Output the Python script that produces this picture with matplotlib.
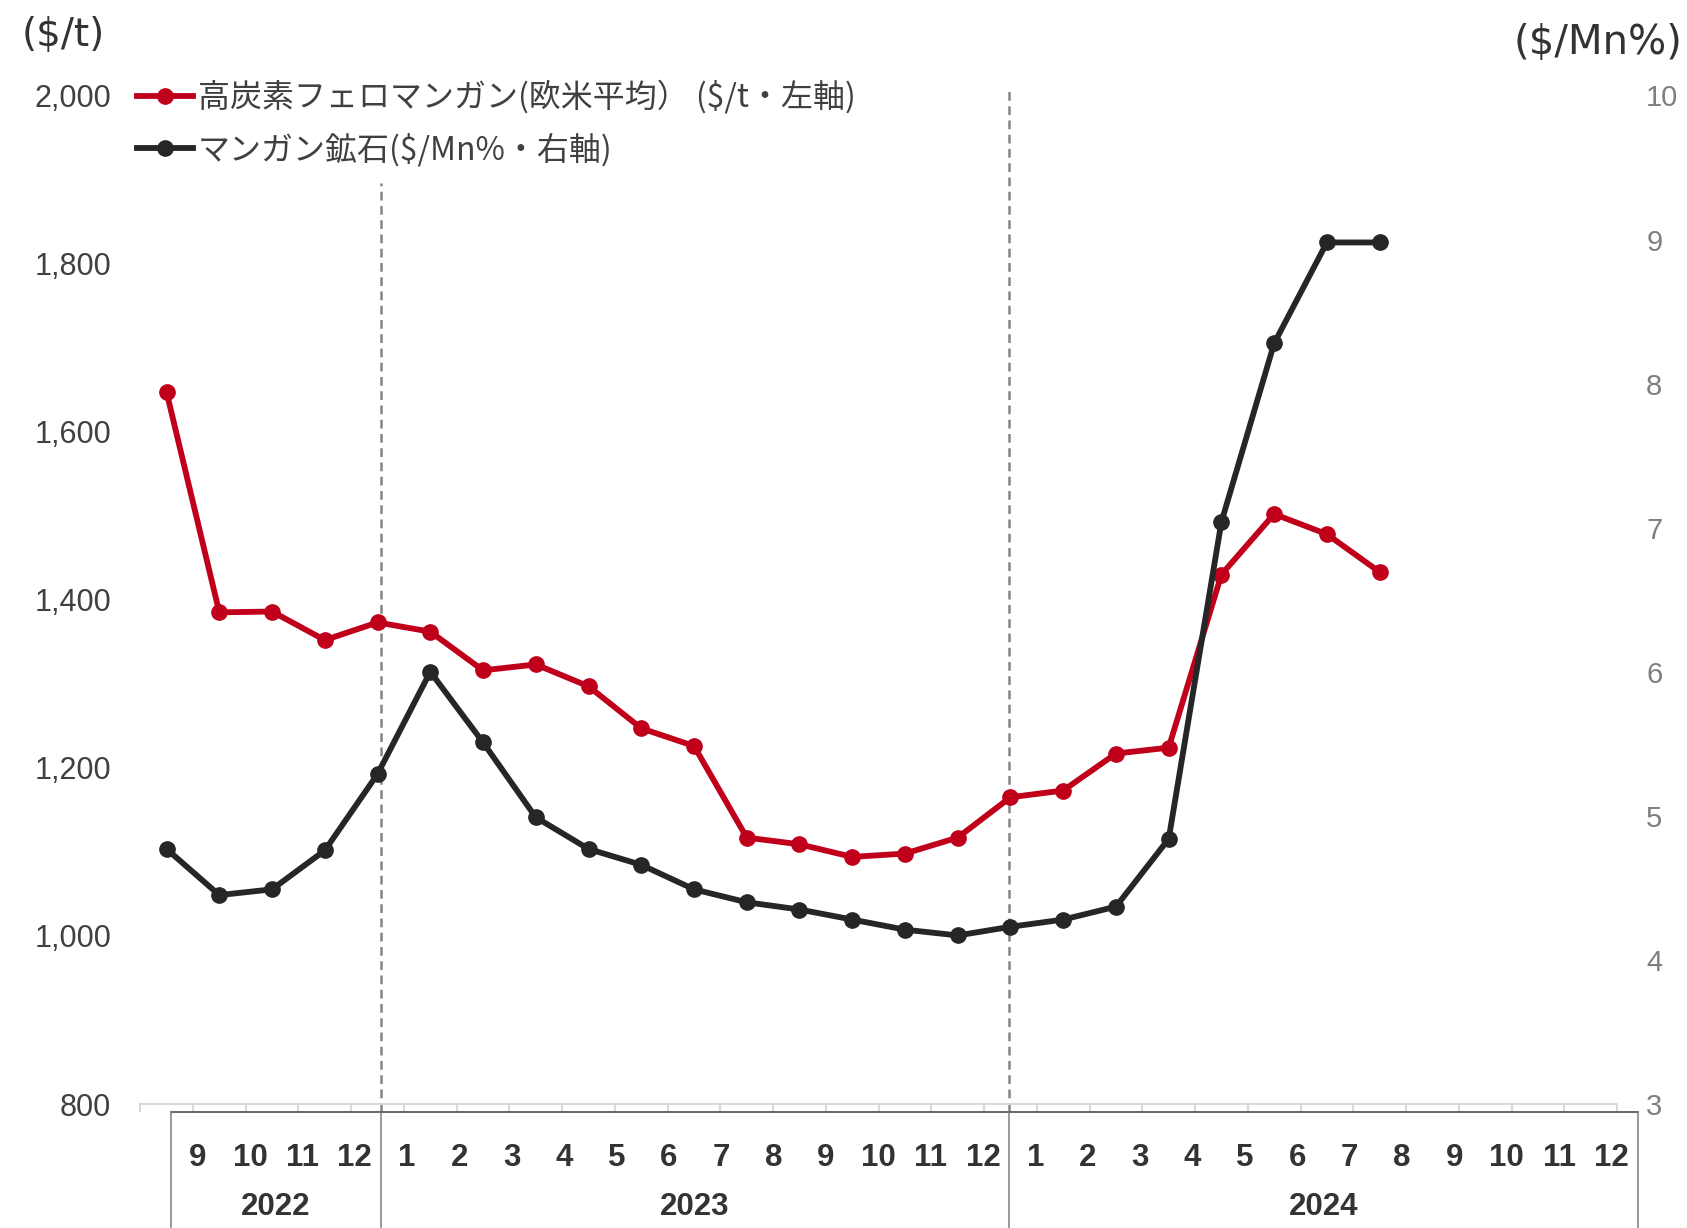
import matplotlib
matplotlib.use('Agg')
import matplotlib.pyplot as plt
from matplotlib.transforms import blended_transform_factory

# ---------------- data ----------------
ferro_mn = [1647, 1385, 1386, 1352, 1373, 1362, 1316, 1323, 1297, 1247, 1226, 1117,
            1109, 1094, 1098, 1117, 1165, 1173, 1217, 1224, 1430, 1502, 1478, 1433]
mn_ore = [4.77, 4.45, 4.49, 4.76, 5.29, 6.00, 5.51, 4.99, 4.77, 4.66, 4.49, 4.40,
          4.35, 4.28, 4.21, 4.17, 4.23, 4.28, 4.37, 4.84, 7.04, 8.28, 8.98, 8.98]
month_labels = ['9', '10', '11', '12',
                '1', '2', '3', '4', '5', '6', '7', '8', '9', '10', '11', '12',
                '1', '2', '3', '4', '5', '6', '7', '8', '9', '10', '11', '12']
year_labels = ['2022', '2023', '2024']
year_month_counts = [4, 12, 12]
left_ticks = [800, 1000, 1200, 1400, 1600, 1800, 2000]
right_ticks = [3, 4, 5, 6, 7, 8, 9, 10]
legend_labels = ['高炭素フェロマンガン(欧米平均） ($/t・左軸)',
                 'マンガン鉱石($/Mn%・右軸)']

RED = '#C0001A'
BLACK = '#262626'
W, H = 1687, 1228

fig = plt.figure(figsize=(W / 100, H / 100), dpi=100)
ax_left, ax_right = 140.2 / W, 1617 / W
ax_bot, ax_top = 1 - 1104 / H, 1 - 95.5 / H
ax = fig.add_axes([ax_left, ax_bot, ax_right - ax_left, ax_top - ax_bot])
ax2 = ax.twinx()

n_cat = len(month_labels)
x = list(range(len(ferro_mn)))

l1, = ax.plot(x, ferro_mn, color=RED, lw=4.2, marker='o', ms=11, zorder=3,
              solid_joinstyle='round')
l2, = ax2.plot(x, mn_ore, color=BLACK, lw=4.2, marker='o', ms=11, zorder=3,
               solid_joinstyle='round')

ax.set_xlim(-0.5, n_cat - 0.5)
ax.set_ylim(800, 2000)
ax2.set_ylim(3, 10)
ax.set_yticks(left_ticks)
ax.set_yticklabels([f'{v:,}' for v in left_ticks])
ax2.set_yticks(right_ticks)
ax2.set_yticklabels([str(v) for v in right_ticks])

for a in (ax, ax2):
    for s in ('top', 'left', 'right', 'bottom'):
        a.spines[s].set_visible(False)
ax.spines['bottom'].set_visible(True)
ax.spines['bottom'].set_color('#d9d9d9')
ax.spines['bottom'].set_linewidth(1.5)

ax.tick_params(axis='y', length=0, pad=21, labelsize=22, labelcolor='#404040')
ax2.tick_params(axis='y', length=0, pad=21, labelsize=21, labelcolor='#7f7f7f')
for lab in ax.get_yticklabels() + ax2.get_yticklabels():
    lab.set_fontfamily('Liberation Sans')

ax.set_xticks([i - 0.5 for i in range(n_cat + 1)])
ax.set_xticklabels([])
ax.tick_params(axis='x', direction='out', length=6, width=1.5, color='#d9d9d9')

# ---------------- category table below axis ----------------
blend = blended_transform_factory(ax.transData, fig.transFigure)
box_left, box_w = 0.09, 0.993
box_top = 1 - 1112 / H
edges = [box_left]
for c in year_month_counts:
    edges.append(edges[-1] + c * box_w)
ax.plot([edges[0], edges[-1]], [box_top, box_top], transform=blend,
        color='#404040', lw=1.1, clip_on=False)
for e in edges:
    ax.plot([e, e], [0, box_top], transform=blend, color='#7f7f7f', lw=1.1,
            clip_on=False)
for k, lab in enumerate(month_labels):
    ax.text(box_left + box_w * (k + 0.5), 1 - 1158.5 / H, lab, transform=blend,
            ha='center', va='center', fontsize=22.5, fontweight='bold',
            color='#333333', family='Liberation Sans')
for j, lab in enumerate(year_labels):
    ax.text((edges[j] + edges[j + 1]) / 2, 1 - 1207 / H, lab, transform=blend,
            ha='center', va='center', fontsize=22.5, fontweight='bold',
            color='#333333', family='Liberation Sans')

# dashed year separators
dash_tops = [1 - 183 / H, 1 - 86 / H]
for e, t in zip(edges[1:3], dash_tops):
    ax.plot([e, e], [box_top, t], transform=blend, color='#858585', lw=1.8,
            ls=(0, (3.5, 2.2)), clip_on=False, zorder=1)

# ---------------- units ----------------
fig.text(22 / W, 1 - 35 / H, '($/t)', ha='left', va='center', fontsize=28,
         color='#333333', family='DejaVu Sans')
fig.text(1682 / W, 1 - 43 / H, '($/Mn%)', ha='right', va='center', fontsize=29,
         color='#333333', family='DejaVu Sans')

# ---------------- legend ----------------
leg = ax2.legend([l1, l2], legend_labels, loc='upper left',
                 bbox_to_anchor=(136.7 / W, 1 - 80 / H),
                 bbox_transform=fig.transFigure, frameon=False,
                 handlelength=1.75, handletextpad=0.16, labelspacing=0.6,
                 borderpad=0, borderaxespad=0,
                 prop={'family': ['Noto Sans CJK JP', 'DejaVu Sans'], 'size': 23})
for t in leg.get_texts():
    t.set_color('#404040')

fig.savefig('out.png', dpi=100)
